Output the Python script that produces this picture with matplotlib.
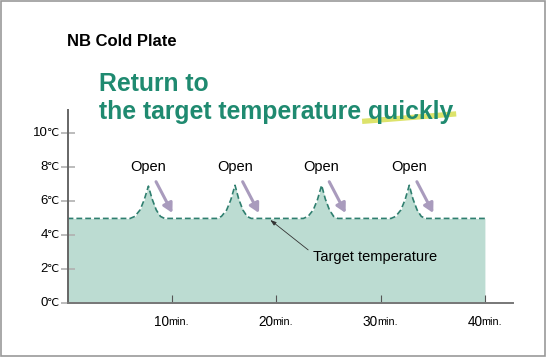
import matplotlib
matplotlib.use('Agg')
import matplotlib.pyplot as plt
from matplotlib.lines import Line2D
from matplotlib.patches import Rectangle

plt.rcParams['font.family'] = ['Liberation Sans', 'DejaVu Sans']

# temperature trace (min, ℃)
time_min = [0, 6.0, 6.45, 6.95, 7.35, 7.75, 8.1, 8.5, 8.9, 9.3,
            14.3, 14.75, 15.25, 15.65, 16.05, 16.4, 16.8, 17.2, 17.6,
            22.6, 23.05, 23.55, 23.95, 24.35, 24.7, 25.1, 25.5, 25.9,
            31.0, 31.45, 31.95, 32.35, 32.75, 33.1, 33.5, 33.9, 34.3, 40]
temp_c = [5.0, 5.0, 5.12, 5.5, 6.1, 6.9, 6.15, 5.5, 5.12, 5.0,
          5.0, 5.12, 5.5, 6.1, 6.95, 6.15, 5.5, 5.12, 5.0,
          5.0, 5.12, 5.5, 6.1, 6.95, 6.15, 5.5, 5.12, 5.0,
          5.0, 5.12, 5.5, 6.1, 6.95, 6.15, 5.5, 5.12, 5.0, 5.0]

open_times = [7.75, 16.05, 24.35, 32.75]
y_ticks = [0, 2, 4, 6, 8, 10]
x_ticks = [10, 20, 30, 40]

fill_color = '#bcdcd2'
line_color = '#2f7f6f'
arrow_color = '#a99bbd'
green = '#1f8a70'

fig = plt.figure(figsize=(5.47, 3.57), dpi=100)
ax = fig.add_axes([0.1235, 0.15, 0.8145, 0.542])

ax.fill_between(time_min, 0, temp_c, color=fill_color, lw=0, zorder=1)
ax.plot(time_min, temp_c, color=line_color, lw=1.2, dashes=(3.5, 1.8), zorder=2)

ax.set_xlim(0, 42.7)
ax.set_ylim(0, 11.38)

for sp in ['top', 'right']:
    ax.spines[sp].set_visible(False)
ax.spines['left'].set_color('#666666')
ax.spines['left'].set_linewidth(1.4)
ax.spines['bottom'].set_color('#777777')
ax.spines['bottom'].set_linewidth(1.4)

# y labels: number + small ℃
ax.set_yticks(y_ticks)
ax.set_yticklabels([])
ax.tick_params(axis='y', direction='inout', length=10, width=1.2, color='#b0b0b0')
for yt in y_ticks:
    ax.annotate(str(yt), xy=(0, yt), xycoords=('axes fraction', 'data'),
                xytext=(-14.3, 0), textcoords='offset points',
                ha='right', va='center', fontsize=9.5, annotation_clip=False)
    ax.annotate('℃', xy=(0, yt), xycoords=('axes fraction', 'data'),
                xytext=(-14.6, 0.2), textcoords='offset points',
                ha='left', va='center', fontsize=7.8, family='DejaVu Sans',
                annotation_clip=False)

# x labels: number + small "min."
ax.set_xticks(x_ticks)
ax.set_xticklabels([])
ax.tick_params(axis='x', direction='in', length=6, width=0.8, color='#555555')
for xt in x_ticks:
    ax.annotate(str(xt), xy=(xt, 0), xycoords=('data', 'axes fraction'),
                xytext=(-1.8, -13.0), textcoords='offset points',
                ha='right', va='center', fontsize=9.8, annotation_clip=False)
    ax.annotate('min.', xy=(xt, 0), xycoords=('data', 'axes fraction'),
                xytext=(-2.6, -13.6), textcoords='offset points',
                ha='left', va='center', fontsize=7.8, annotation_clip=False)

for t in open_times:
    ax.text(t, 8.0, 'Open', ha='center', va='center', fontsize=10.5)
    ax.annotate('', xy=(t + 2.3, 5.32), xytext=(t + 0.73, 7.16),
                arrowprops=dict(arrowstyle='-|>,head_length=0.55,head_width=0.3',
                                color=arrow_color, lw=2.2, shrinkA=0, shrinkB=0))

ax.annotate('', xy=(19.43, 4.91), xytext=(23.06, 3.15),
            arrowprops=dict(arrowstyle='-|>,head_length=0.35,head_width=0.12',
                            color='#333333', lw=0.6, shrinkA=0, shrinkB=0))
ax.text(23.5, 2.74, 'Target temperature', ha='left', va='center', fontsize=10.5)

fig.text(0.1225, 0.885, 'NB Cold Plate', fontsize=12, fontweight='bold',
         ha='left', va='center')
fig.add_artist(Line2D([0.662, 0.834], [0.660, 0.681], color='#dde36b',
                      lw=3.8, solid_capstyle='butt', zorder=1))
fig.text(0.181, 0.766, 'Return to', fontsize=17.8, fontweight='bold',
         color=green, ha='left', va='center', zorder=3)
fig.text(0.181, 0.686, 'the target temperature quickly', fontsize=17.8,
         fontweight='bold', color=green, ha='left', va='center', zorder=3)

fig.patches.append(Rectangle((0.002, 0.003), 0.995, 0.993, transform=fig.transFigure,
                             fill=False, edgecolor='#999999', lw=1.2))

fig.savefig('out.png', dpi=100)
